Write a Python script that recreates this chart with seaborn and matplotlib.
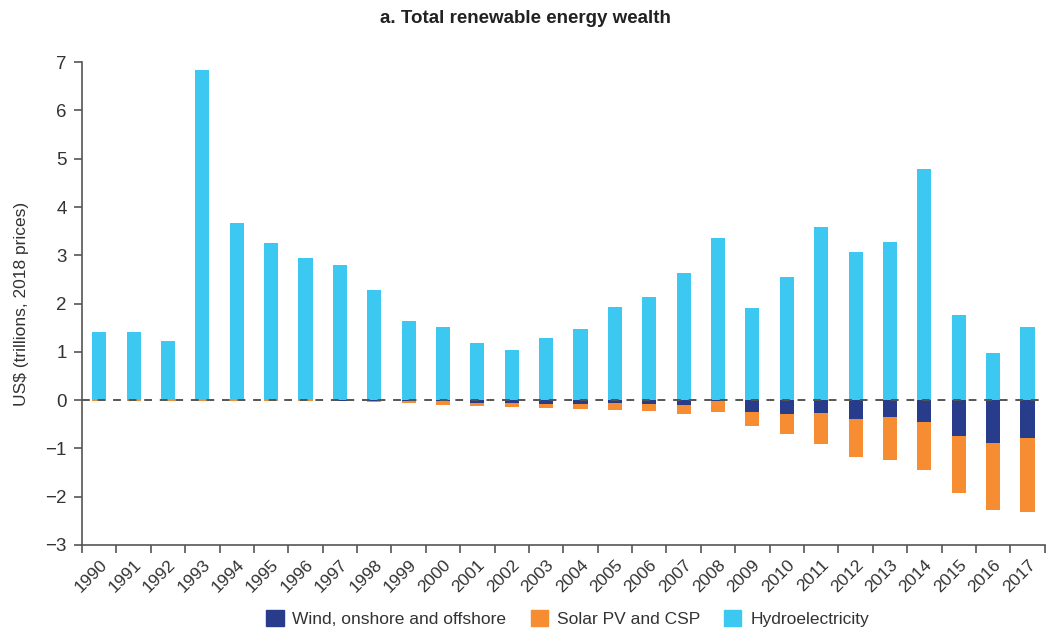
import numpy as np
import pandas as pd
import seaborn as sns
import matplotlib.pyplot as plt
from matplotlib.patches import Patch

# Data (US$ trillions, 2018 prices)
years = [str(y) for y in range(1990, 2018)]
hydro = [1.41, 1.42, 1.22, 6.83, 3.67, 3.26, 2.95, 2.79, 2.27, 1.64,
         1.51, 1.18, 1.04, 1.29, 1.47, 1.92, 2.13, 2.64, 3.36, 1.90,
         2.56, 3.59, 3.06, 3.28, 4.78, 1.76, 0.98, 1.51]
wind = [0, 0, 0, 0, 0, 0, 0, -0.01, -0.01, -0.01,
        -0.03, -0.06, -0.06, -0.08, -0.09, -0.07, -0.09, -0.11, -0.01, -0.24,
        -0.28, -0.26, -0.40, -0.35, -0.45, -0.75, -0.89, -0.79]
solar = [-0.01, -0.01, -0.01, -0.01, -0.01, -0.01, -0.03, -0.02, -0.04, -0.05,
         -0.07, -0.06, -0.08, -0.09, -0.10, -0.13, -0.14, -0.17, -0.23, -0.29,
         -0.42, -0.65, -0.77, -0.89, -1.00, -1.17, -1.38, -1.53]

df = pd.DataFrame({'year': years, 'hydro': hydro, 'wind': wind, 'solar': solar})

c_wind, c_solar, c_hydro = '#283c8c', '#f68d33', '#3cc8f0'
txt = '#333333'

sns.set_style('white')
plt.rcParams['font.family'] = ['Liberation Sans', 'DejaVu Sans']

fig, ax = plt.subplots(figsize=(10.51, 6.35), dpi=100)
fig.subplots_adjust(left=0.078, right=0.994, top=0.902, bottom=0.142)

w = 0.41
kw = dict(width=w, ax=ax, saturation=1, linewidth=0, zorder=2)
sns.barplot(data=df, x='year', y='hydro', color=c_hydro, **kw)
sns.barplot(data=df, x='year', y='wind', color=c_wind, **kw)
sns.barplot(data=df, x='year', y='solar', color=c_solar, bottom=df['wind'].values, **kw)

ax.axhline(0, color='#555555', lw=1.4, ls=(0, (4, 4)), zorder=5)

ax.set_ylim(-3, 7)
ax.set_xlim(-0.5, len(years) - 0.5)
ax.set_yticks(range(-3, 8))
ax.set_yticklabels(['\u2212%d' % -v if v < 0 else str(v) for v in range(-3, 8)])
ax.set_xticks(range(len(years)))
ax.set_xticklabels(years, rotation=45, ha='right', rotation_mode='anchor')
ax.set_xticks(np.arange(-0.5, len(years)), minor=True)
ax.tick_params(axis='x', which='major', length=0, pad=9, labelsize=12.5, labelcolor=txt)
ax.tick_params(axis='x', which='minor', length=6, width=1.2, color='#555555', bottom=True)
ax.tick_params(axis='y', length=6, width=1.2, color='#555555', left=True, labelsize=13.5,
               labelcolor=txt, pad=5)

for s in ['top', 'right']:
    ax.spines[s].set_visible(False)
for s in ['left', 'bottom']:
    ax.spines[s].set_color('#555555')
    ax.spines[s].set_linewidth(1.2)

ax.set_xlabel('')
ax.set_ylabel('US$ (trillions, 2018 prices)', fontsize=12.5, color=txt, labelpad=12)
fig.suptitle('a. Total renewable energy wealth', x=0.5, y=0.985, fontsize=13.5,
             fontweight='bold', color='#222222')

handles = [Patch(color=c_wind, label='Wind, onshore and offshore'),
           Patch(color=c_solar, label='Solar PV and CSP'),
           Patch(color=c_hydro, label='Hydroelectricity')]
fig.legend(handles=handles, loc='lower center', bbox_to_anchor=(0.54, -0.012), ncol=3,
           frameon=False, fontsize=12.5, handlelength=1.0, handleheight=1.0,
           handletextpad=0.5, columnspacing=1.4, labelcolor=txt)

fig.savefig('out.png', dpi=100)
